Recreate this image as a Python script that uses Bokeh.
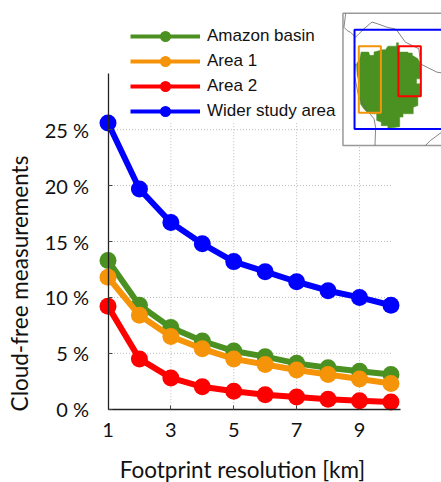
from bokeh.plotting import figure
from bokeh.models import Range1d, LinearAxis, FixedTicker, Legend, LegendItem
from bokeh.embed import file_html
from bokeh.resources import INLINE

footprint_km = [1, 2, 3, 4, 5, 6, 7, 8, 9, 10]
amazon_basin = [13.3, 9.3, 7.3, 6.1, 5.2, 4.7, 4.1, 3.7, 3.4, 3.1]
area_1 = [11.8, 8.4, 6.5, 5.4, 4.5, 4.0, 3.5, 3.1, 2.7, 2.3]
area_2 = [9.2, 4.5, 2.8, 2.0, 1.6, 1.3, 1.1, 0.9, 0.75, 0.65]
wider_area = [25.6, 19.7, 16.7, 14.8, 13.2, 12.3, 11.4, 10.6, 10.0, 9.3]

series_names = ["Amazon basin", "Area 1", "Area 2", "Wider study area"]
series_colors = ["#4b9122", "#f59309", "#ff0000", "#0000ff"]
x_ticks = [1, 3, 5, 7, 9]
y_ticks = [0, 5, 10, 15, 20, 25]
y_tick_labels = {0: "0 %", 5: "5 %", 10: "10 %", 15: "15 %", 20: "20 %", 25: "25 %"}
grid_top = 25.6
grid_right = 10

# inset map, in degrees
basin_lon = [-66.9, -66.3, -66.3, -66.0, -66.0, -63.4, -63.4, -62.1, -62.1, -60.4, -59.8, -59.6, -60.8, -60.8, -59.8, -59.6, -60.4, -60.4, -61.8, -61.8, -64.9, -64.9, -65.9, -65.9, -69.5, -69.5, -71.5, -71.5, -72.9, -72.9, -74.3, -75.8, -76.8, -77.8, -78.0, -78.0, -78.8, -79.0, -78.0, -77.6, -75.3, -75.0, -73.7, -73.7, -71.9, -71.2, -70.2, -69.5, -66.9]
basin_lat = [5.9, 5.9, 4.9, 4.9, 3.1, 3.1, 2.8, 2.8, 2.1, 1.1, 0.0, -5.0, -5.0, -6.5, -6.5, -10.1, -10.4, -13.1, -13.6, -15.6, -15.6, -16.6, -16.6, -19.5, -20.0, -19.2, -19.2, -18.1, -17.6, -15.6, -15.6, -15.1, -14.1, -12.6, -10.6, -6.5, -4.0, -0.5, 1.1, 3.1, 3.1, 2.1, 2.1, 3.1, 3.6, 3.8, 3.8, 4.9, 4.9]
coast_a_lon = [-82.3, -82.8, -81.8, -80.8, -79.3, -78.3, -76.8, -74.3, -72.7, -69.7, -67.2, -66.7, -64.2, -60.1, -59.6, -57.6, -54.6, -53.2]
coast_a_lat = [14.7, 10.6, 9.6, 9.1, 7.6, 8.6, 10.1, 12.2, 11.7, 10.6, 10.1, 9.6, 6.1, 4.1, -0.5, -1.5, -3.0, -3.2]
coast_b_lon = [-79.3, -79.6, -78.3, -75.8, -73.7, -73.2, -73.4]
coast_b_lat = [-0.5, -4.0, -10.6, -14.6, -17.1, -19.7, -25.2]
coast_c_lon = [-58.1, -56.6, -53.2]
coast_c_lat = [-25.2, -23.7, -21.2]
map_box_lon = [-83.1, -50.0]
map_box_lat = [-25.2, 14.9]
boxes = {"#0000ff": (-79.6, -50.0, -20.2, 9.9), "#f59309": (-78.3, -71.6, -15.3, 4.9), "#ff0000": (-66.3, -59.5, -10.3, 4.9)}

# page pixel geometry
fig_w, fig_h = 441, 482
x0_px, x_scale = 107.5, 31.44
y0_px, y_scale = 408.7, 11.18
deg_px = 3.3
lon0_px, lon0 = 356, -79.0
lat0_px, lat0 = 42, 6.0

p = figure(
    width=fig_w, height=fig_h, output_backend="svg", toolbar_location=None,
    x_range=Range1d(1 - x0_px / x_scale, 1 + (fig_w - x0_px) / x_scale),
    y_range=Range1d((y0_px - fig_h) / y_scale, y0_px / y_scale),
    x_axis_type=None, y_axis_type=None,
    min_border=0, outline_line_color=None,
)
p.extra_x_ranges["lon"] = Range1d(lon0 - lon0_px / deg_px, lon0 + (fig_w - lon0_px) / deg_px)
p.extra_y_ranges["lat"] = Range1d(lat0 - (fig_h - lat0_px) / deg_px, lat0 + lat0_px / deg_px)

# dotted grid, behind everything
grid_style = dict(line_color="#bdbdbd", line_dash="1 2", line_width=1)
p.segment(x_ticks[1:], [0] * 4, x_ticks[1:], [grid_top] * 4, **grid_style)
p.segment([1] * 5, y_ticks[1:], [grid_right] * 5, y_ticks[1:], **grid_style)

font = "Lato"
xaxis = LinearAxis(ticker=FixedTicker(ticks=x_ticks), fixed_location=0, bounds=(1, 10.3))
yaxis = LinearAxis(ticker=FixedTicker(ticks=y_ticks), fixed_location=1, bounds=(0, 30),
                   major_label_overrides=y_tick_labels)
xlabel_axis = LinearAxis(ticker=FixedTicker(ticks=[]), fixed_location=0, bounds=(1, 9.55),
                         axis_label="Footprint resolution [km]")
ylabel_axis = LinearAxis(ticker=FixedTicker(ticks=[]), fixed_location=1, bounds=(0, 22.5),
                         axis_label="Cloud-free measurements")
p.add_layout(xaxis, "below")
p.add_layout(yaxis, "left")
p.add_layout(xlabel_axis, "below")
p.add_layout(ylabel_axis, "left")
for ax in (xaxis, yaxis):
    ax.major_tick_in = 4
    ax.major_tick_out = 0
    ax.minor_tick_line_color = None
    ax.axis_line_color = "#222222"
    ax.axis_line_width = 1.3
    ax.major_tick_line_color = "#444444"
    ax.major_label_text_font = font
    ax.major_label_text_font_size = "20px"
    ax.major_label_text_color = "#111111"
xaxis.major_label_standoff = 14
yaxis.major_label_standoff = 19
for ax in (xlabel_axis, ylabel_axis):
    ax.axis_line_color = None
    ax.major_tick_line_color = None
    ax.minor_tick_line_color = None
    ax.major_tick_in = 0
    ax.major_tick_out = 0
    ax.axis_label_text_font = font
    ax.axis_label_text_font_size = "22.5px"
    ax.axis_label_text_font_style = "normal"
    ax.axis_label_text_color = "#111111"
xlabel_axis.axis_label_standoff = 46
ylabel_axis.axis_label_standoff = 76

items = []
nan = float("nan")
for name, color, vals in zip(series_names, series_colors, [amazon_basin, area_1, area_2, wider_area]):
    p.line(footprint_km, vals, line_color=color, line_width=6)
    p.scatter(footprint_km, vals, size=17, fill_color=color, line_color=color, line_width=0)
    l_line = p.line([nan, nan], [nan, nan], line_color=color, line_width=4)
    l_dot = p.scatter([nan], [nan], fill_color=color, line_color=color, line_width=1.4)
    items.append(LegendItem(label=name, renderers=[l_line, l_dot]))

legend = Legend(
    items=items, location=(130, fig_h - 123), orientation="vertical",
    glyph_width=70, glyph_height=24, label_standoff=7, spacing=1, padding=0, margin=0,
    border_line_color=None, background_fill_alpha=0,
    label_text_font="Liberation Sans", label_text_font_size="17px", label_text_color="#111111",
)
p.add_layout(legend)

# inset
inset = dict(x_range_name="lon", y_range_name="lat")
p.quad(left=[map_box_lon[0]], right=[map_box_lon[1]], bottom=[map_box_lat[0]], top=[map_box_lat[1]],
       fill_color="white", line_color="#999999", line_width=1.5, **inset)
p.patch(basin_lon, basin_lat, fill_color="#4b9122", line_color="#4b9122", line_width=0.5, **inset)
for lo, la in ((coast_a_lon, coast_a_lat), (coast_b_lon, coast_b_lat), (coast_c_lon, coast_c_lat)):
    p.line(lo, la, line_color="#666666", line_width=0.8, **inset)
for color, (l, r, b, t) in boxes.items():
    p.quad(left=[l], right=[r], bottom=[b], top=[t], fill_alpha=0, line_color=color, line_width=2, **inset)

open("out.html", "w").write(file_html(p, INLINE))
